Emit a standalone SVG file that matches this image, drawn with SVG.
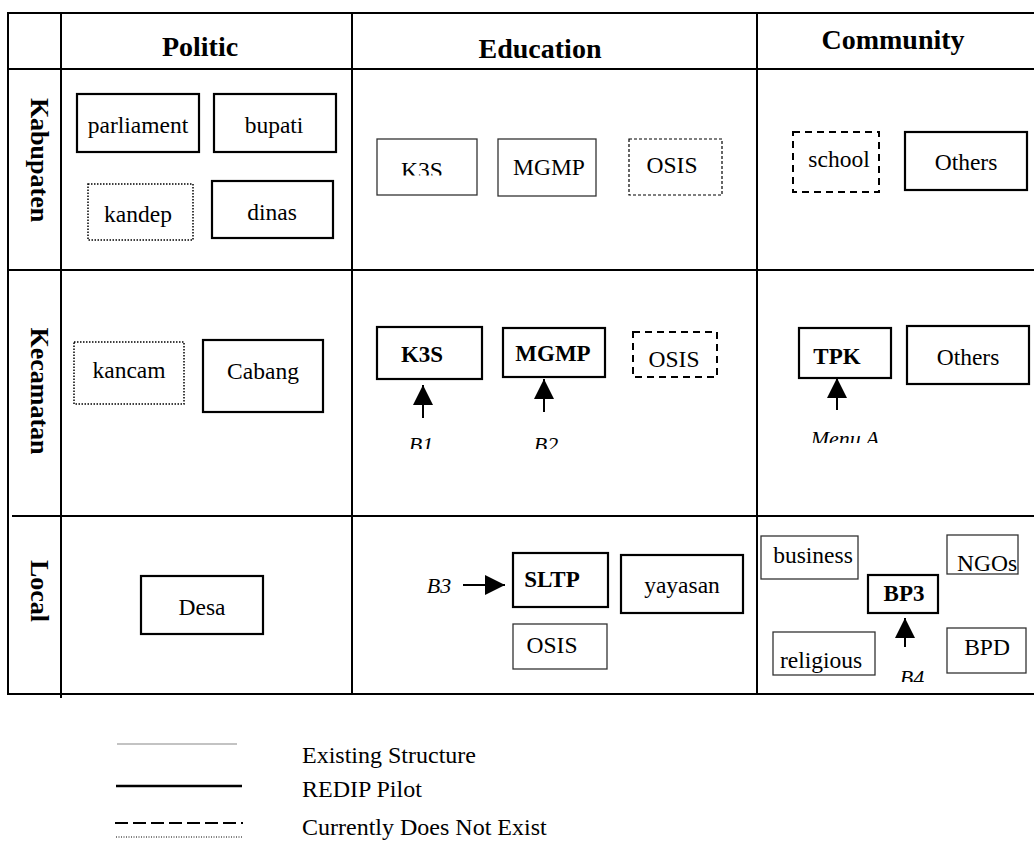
<svg xmlns="http://www.w3.org/2000/svg" width="1034" height="841" viewBox="0 0 1034 841">
  <style>
    text { font-family: "Liberation Serif", "Times New Roman", serif; fill: #000; }
    .hdr { font-size: 28px; font-weight: bold; text-anchor: middle; }
    .side { font-size: 26px; font-weight: bold; text-anchor: middle; }
    .lbl { font-size: 23.5px; text-anchor: middle; }
    .blbl { font-size: 23px; font-weight: bold; text-anchor: middle; }
    .ital { font-size: 22px; font-style: italic; text-anchor: middle; }
    .leg { font-size: 24px; }
    .grid { stroke: #000; stroke-width: 2; fill: none; }
    .pilot { fill: #fff; stroke: #000; stroke-width: 2.2; }
    .exist { fill: #fff; stroke: #333; stroke-width: 1.3; }
    .dash { fill: #fff; stroke: #000; stroke-width: 2; stroke-dasharray: 7 5; }
    .fdash { fill: #fff; stroke: #000; stroke-width: 1.2; stroke-dasharray: 3 2; }
    .dot { fill: #fff; stroke: #000; stroke-width: 1.5; stroke-dasharray: 1.5 1.5; }
    .conn { stroke: #000; stroke-width: 2; fill: none; marker-end: url(#head); }
  </style>
  <defs>
    <marker id="head" markerUnits="userSpaceOnUse" markerWidth="20" markerHeight="20" refX="20" refY="10" orient="auto">
      <path d="M0,0 L20,10 L0,20 z" fill="#000"/>
    </marker>
    <clipPath id="clipK3S"><rect x="377" y="139" width="100" height="36.5"/></clipPath>
    <clipPath id="clipB12"><rect x="390" y="425" width="190" height="24"/></clipPath>
    <clipPath id="clipMenu"><rect x="790" y="420" width="110" height="23"/></clipPath>
    <clipPath id="clipB4"><rect x="885" y="660" width="60" height="22"/></clipPath>
  </defs>

  <rect width="1034" height="841" fill="#fff"/>

  <!-- table grid -->
  <g id="grid">
    <line class="grid" x1="8" y1="13" x2="1034" y2="13"/>
    <line class="grid" x1="8" y1="69" x2="1034" y2="69"/>
    <line class="grid" x1="8" y1="270" x2="1034" y2="270"/>
    <line class="grid" x1="12" y1="516" x2="1034" y2="516" stroke-width="3"/>
    <line class="grid" x1="8" y1="694" x2="1034" y2="694" stroke="#333"/>
    <line class="grid" x1="8" y1="12" x2="8" y2="695"/>
    <line class="grid" x1="61" y1="12" x2="61" y2="698"/>
    <line class="grid" x1="352" y1="12" x2="352" y2="695"/>
    <line class="grid" x1="757" y1="12" x2="757" y2="695"/>
  </g>

  <!-- column and row headings -->
  <g id="headings">
    <text class="hdr" x="200" y="56">Politic</text>
    <text class="hdr" x="540" y="58">Education</text>
    <text class="hdr" x="893" y="49">Community</text>
    <text class="side" transform="translate(31,160) rotate(90)">Kabupaten</text>
    <text class="side" transform="translate(31,391) rotate(90)">Kecamatan</text>
    <text class="side" transform="translate(31,591) rotate(90)">Local</text>
  </g>

  <!-- Kabupaten row -->
  <g id="parliament"><rect class="pilot" x="77" y="94" width="122" height="58"/><text class="lbl" x="138" y="133">parliament</text></g>
  <g id="bupati"><rect class="pilot" x="214" y="94" width="122" height="58"/><text class="lbl" x="274" y="133">bupati</text></g>
  <g id="kandep"><rect class="dot" x="88" y="184" width="105" height="56"/><text class="lbl" x="138" y="222">kandep</text></g>
  <g id="dinas"><rect class="pilot" x="212" y="181" width="121" height="57"/><text class="lbl" x="272" y="220">dinas</text></g>
  <g id="k3s-kab"><rect class="exist" x="377" y="139" width="100" height="56"/><text class="lbl" x="422" y="178" clip-path="url(#clipK3S)">K3S</text></g>
  <g id="mgmp-kab"><rect class="exist" x="498" y="139" width="98" height="57"/><text class="lbl" x="549" y="175">MGMP</text></g>
  <g id="osis-kab"><rect class="fdash" x="629" y="139" width="93" height="56"/><text class="lbl" x="672" y="173">OSIS</text></g>
  <g id="school"><rect class="dash" x="793" y="132" width="86" height="60"/><text class="lbl" x="839" y="167">school</text></g>
  <g id="others-kab"><rect class="pilot" x="905" y="132" width="122" height="58"/><text class="lbl" x="966" y="170">Others</text></g>

  <!-- Kecamatan row -->
  <g id="kancam"><rect class="dot" x="74" y="342" width="110" height="62"/><text class="lbl" x="129" y="378">kancam</text></g>
  <g id="cabang"><rect class="pilot" x="203" y="340" width="120" height="72"/><text class="lbl" x="263" y="379">Cabang</text></g>
  <g id="k3s-kec"><rect class="pilot" x="377" y="327" width="105" height="52"/><text class="blbl" x="422" y="362">K3S</text></g>
  <g id="mgmp-kec"><rect class="pilot" x="503" y="328" width="102" height="49"/><text class="blbl" x="553" y="361">MGMP</text></g>
  <g id="osis-kec"><rect class="dash" x="633" y="332" width="84" height="45"/><text class="lbl" x="674" y="367">OSIS</text></g>
  <g id="tpk"><rect class="pilot" x="799" y="328" width="92" height="50"/><text class="blbl" x="837" y="364">TPK</text></g>
  <g id="others-kec"><rect class="pilot" x="907" y="326" width="122" height="58"/><text class="lbl" x="968" y="365">Others</text></g>

  <!-- Local row -->
  <g id="desa"><rect class="pilot" x="141" y="576" width="122" height="58"/><text class="lbl" x="202" y="615">Desa</text></g>
  <g id="sltp"><rect class="pilot" x="513" y="553" width="95" height="54"/><text class="blbl" x="552" y="587">SLTP</text></g>
  <g id="yayasan"><rect class="pilot" x="621" y="555" width="122" height="58"/><text class="lbl" x="682" y="593">yayasan</text></g>
  <g id="osis-local"><rect class="exist" x="513" y="624" width="94" height="45"/><text class="lbl" x="552" y="653">OSIS</text></g>
  <g id="business"><rect class="exist" x="761" y="536" width="97" height="43"/><text class="lbl" x="813" y="563">business</text></g>
  <g id="ngos"><rect class="exist" x="947" y="535" width="71" height="39"/><text class="lbl" x="987" y="571">NGOs</text></g>
  <g id="bp3"><rect class="pilot" x="868" y="575" width="70" height="38"/><text class="blbl" x="904" y="601">BP3</text></g>
  <g id="religious"><rect class="exist" x="773" y="632" width="102" height="43"/><text class="lbl" x="821" y="668">religious</text></g>
  <g id="bpd"><rect class="exist" x="947" y="628" width="79" height="45"/><text class="lbl" x="987" y="655">BPD</text></g>

  <!-- entry-point labels -->
  <g id="entry-labels">
    <text class="ital" x="421" y="452" clip-path="url(#clipB12)">B1</text>
    <text class="ital" x="546" y="452" clip-path="url(#clipB12)">B2</text>
    <text class="ital" x="845" y="446" clip-path="url(#clipMenu)">Menu A</text>
    <text class="ital" x="439" y="593">B3</text>
    <text class="ital" x="912" y="685" clip-path="url(#clipB4)">B4</text>
  </g>

  <!-- arrows -->
  <g id="connectors">
    <line class="conn" x1="423" y1="418" x2="423" y2="385"/>
    <line class="conn" x1="544" y1="412" x2="544" y2="379"/>
    <line class="conn" x1="837" y1="410" x2="837" y2="378"/>
    <line class="conn" x1="463" y1="585" x2="505" y2="585"/>
    <line class="conn" x1="905" y1="647" x2="905" y2="618"/>
  </g>

  <!-- legend -->
  <g id="legend">
    <line x1="117" y1="744" x2="237" y2="744" stroke="#888" stroke-width="1.2"/>
    <line x1="116" y1="786" x2="242" y2="786" stroke="#000" stroke-width="2.5"/>
    <line x1="115" y1="823" x2="243" y2="823" stroke="#000" stroke-width="2" stroke-dasharray="13 5"/>
    <line x1="116" y1="837" x2="242" y2="837" stroke="#000" stroke-width="1" stroke-dasharray="1 1.5"/>
    <text class="leg" x="302" y="763">Existing Structure</text>
    <text class="leg" x="302" y="797">REDIP Pilot</text>
    <text class="leg" x="302" y="835">Currently Does Not Exist</text>
  </g>
</svg>
